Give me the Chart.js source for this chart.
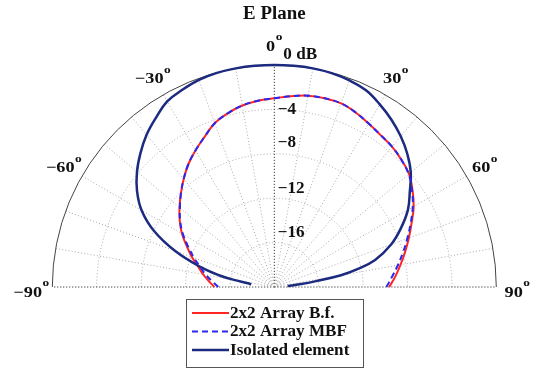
<!DOCTYPE html>
<html>
<head>
<meta charset="utf-8">
<script src="https://cdn.jsdelivr.net/npm/chart.js@4/dist/chart.umd.min.js"></script>
<style>
  html, body { margin: 0; padding: 0; background: #fff; }
  #wrap { width: 542px; height: 370px; position: relative; }
</style>
</head>
<body>
<div id="wrap"><canvas id="c" width="542" height="370"></canvas></div>
<script>
// E-plane radiation patterns, normalised gain in dB versus angle in degrees
const isoAngles = [-84,-82,-80,-78,-75,-70,-65,-60,-55,-50,-45,-40,-35,-30,-25,-20,-15,-10,-5,0,5,10,15,20,25,30,35,40,45,50,55,60,65,70,75,78,80,82,84,86];
const isoGain   = [-17.9,-17.7,-16.3,-14.9,-13.2,-10.5,-8.05,-6.2,-4.9,-3.85,-2.95,-2.1,-1.4,-0.7,-0.4,-0.15,-0.03,0,0,0,0,0,-0.05,-0.2,-0.45,-1.0,-1.6,-2.28,-3.05,-3.95,-5.1,-6.1,-7.4,-8.8,-10.6,-12.4,-13.9,-16.2,-17.7,-18.8];

const arrAngles = [-90,-85,-80,-75,-70,-65,-60,-55,-50,-45,-40,-35,-30,-25,-20,-15,-10,-5,0,5,10,15,20,25,30,35,40,45,50,55,60,65,70,75,80,85,90];
const bfGain    = [-14.6,-14.1,-13.5,-12.9,-12.1,-11.3,-10.4,-9.6,-8.85,-8.1,-7.3,-6.5,-5.8,-5.1,-4.3,-3.8,-3.4,-3.15,-3.0,-2.75,-2.5,-2.4,-2.4,-2.65,-3.0,-3.3,-3.5,-3.8,-4.15,-4.8,-5.5,-6.35,-7.1,-7.8,-8.45,-9.05,-9.65];
const mbfGain   = [-14.95,-14.4,-13.75,-13.1,-12.3,-11.45,-10.5,-9.65,-8.9,-8.1,-7.3,-6.5,-5.8,-5.1,-4.3,-3.8,-3.4,-3.15,-3.0,-2.75,-2.5,-2.4,-2.4,-2.65,-3.0,-3.3,-3.5,-3.8,-4.2,-4.85,-5.6,-6.45,-7.25,-8.0,-8.7,-9.35,-9.9];

const seriesNames = ['2x2 Array B.f.', '2x2 Array MBF', 'Isolated element'];

// polar axis settings
const dbMin = -20, dbMax = 0;
const ringTicks = [0, -4, -8, -12, -16];
const angleTicks = [-90, -60, -30, 0, 30, 60, 90];
const spokeStep = 10;
const titleText = 'E Plane';

const span = dbMax - dbMin;
function toXY(angles, gains) {
  return angles.map((a, i) => {
    const r = Math.max(0, gains[i] - dbMin);
    const t = a * Math.PI / 180;
    return { x: r * Math.sin(t), y: r * Math.cos(t) };
  });
}

const FONT = '"Liberation Serif", "Times New Roman", serif';

// text drawn with a horizontal stretch factor sx, anchored at (x, y)
function stretchedText(ctx, txt, x, y, sx, align) {
  const w = ctx.measureText(txt).width * sx;
  let x0 = x;
  if (align === 'center') x0 = x - w / 2;
  else if (align === 'right') x0 = x - w;
  ctx.save();
  ctx.translate(x0, y);
  ctx.scale(sx, 1);
  ctx.textAlign = 'left';
  ctx.fillText(txt, 0, 0);
  ctx.restore();
  return w;
}

function drawDegLabel(ctx, num, cx, cy, size, sx) {
  const supSize = Math.round(size * 0.75);
  ctx.font = 'bold ' + size + 'px ' + FONT;
  const wMain = ctx.measureText(num).width * sx;
  ctx.font = 'bold ' + supSize + 'px ' + FONT;
  const wSup = ctx.measureText('o').width * sx;
  const total = wMain + wSup + 0.5;
  const x0 = cx - total / 2;
  ctx.textBaseline = 'alphabetic';
  const base = cy + size * 0.44;
  ctx.font = 'bold ' + size + 'px ' + FONT;
  stretchedText(ctx, num, x0, base, sx, 'left');
  ctx.font = 'bold ' + supSize + 'px ' + FONT;
  stretchedText(ctx, 'o', x0 + wMain + 0.5, base - size * 0.68, sx, 'left');
}

const polarGrid = {
  id: 'polarGrid',
  beforeDatasetsDraw(chart) {
    const ctx = chart.ctx;
    const xs = chart.scales.x, ys = chart.scales.y;
    const cx = xs.getPixelForValue(0), cy = ys.getPixelForValue(0);
    const R = xs.getPixelForValue(span) - cx;
    ctx.save();
    ctx.lineWidth = 1;
    // dotted rings
    ctx.strokeStyle = '#a8a8a8';
    ctx.setLineDash([1, 2.2]);
    ringTicks.forEach(v => {
      if (v === dbMax) return;
      const r = (v - dbMin) / span * R;
      ctx.beginPath();
      ctx.arc(cx, cy, r, Math.PI, 2 * Math.PI);
      ctx.stroke();
    });
    // dotted spokes
    for (let a = -90; a <= 90; a += spokeStep) {
      const t = a * Math.PI / 180;
      const strong = (a === 0 || Math.abs(a) === 90);
      ctx.strokeStyle = strong ? '#3a3a3a' : '#a8a8a8';
      ctx.setLineDash(strong ? [1.2, 1.8] : [1, 2.2]);
      ctx.beginPath();
      ctx.moveTo(cx, cy);
      ctx.lineTo(cx + R * Math.sin(t), cy - R * Math.cos(t));
      ctx.stroke();
    }
    // outer boundary
    ctx.setLineDash([]);
    ctx.strokeStyle = '#444';
    ctx.lineWidth = 1;
    ctx.beginPath();
    ctx.arc(cx, cy, R, Math.PI, 2 * Math.PI);
    ctx.stroke();
    ctx.restore();
  },
  afterDraw(chart) {
    const ctx = chart.ctx;
    const xs = chart.scales.x, ys = chart.scales.y;
    const cx = xs.getPixelForValue(0), cy = ys.getPixelForValue(0);
    const R = xs.getPixelForValue(span) - cx;
    ctx.save();
    ctx.fillStyle = '#111';

    // title
    ctx.font = 'bold 18px ' + FONT;
    ctx.textBaseline = 'middle';
    stretchedText(ctx, titleText, cx, 14, 1.05, 'center');

    // angle labels
    angleTicks.forEach(a => {
      const t = a * Math.PI / 180;
      const lx = cx + (R + 21) * Math.sin(t);
      const ly = cy - (R + 21) * Math.cos(t) + (Math.abs(a) === 90 ? 3 : 0);
      drawDegLabel(ctx, (a < 0 ? '\u2212' : '') + Math.abs(a), lx, ly, 15, 1.22);
    });

    // gain labels along the 0 degree axis
    ctx.font = 'bold 16px ' + FONT;
    ctx.textBaseline = 'middle';
    const shifts = { '0': -10, '-4': 0.6, '-8': -10.5, '-12': -9.7, '-16': -9.6 };
    ringTicks.forEach(v => {
      const r = (v - dbMin) / span * R;
      const txt = v === 0 ? '0 dB' : '\u2212' + Math.abs(v);
      stretchedText(ctx, txt, cx + (v === 0 ? 9 : 3.5), cy - r + shifts[String(v)], 1.07, 'left');
    });

    // legend box
    const bx = 186.5, by = 299.5, bw = 177, bh = 68;
    ctx.fillStyle = '#fff';
    ctx.fillRect(bx, by, bw, bh);
    ctx.strokeStyle = '#555';
    ctx.lineWidth = 1;
    ctx.strokeRect(bx, by, bw, bh);
    [0, 1, 2].forEach((di, k) => {
      const ds = chart.data.datasets[di];
      const ry = 313 + k * 18.5;
      ctx.save();
      ctx.strokeStyle = ds.borderColor;
      ctx.lineWidth = ds.borderWidth;
      ctx.setLineDash(ds.borderDash || []);
      ctx.beginPath();
      ctx.moveTo(192, ry);
      ctx.lineTo(229, ry);
      ctx.stroke();
      ctx.restore();
      ctx.fillStyle = '#111';
      ctx.font = 'bold 16px ' + FONT;
      ctx.textBaseline = 'middle';
      stretchedText(ctx, ds.label, 230, ry + 0.5, 1.07, 'left');
    });
    ctx.restore();
  }
};

new Chart(document.getElementById('c'), {
  type: 'scatter',
  data: {
    datasets: [
      { label: seriesNames[0], data: toXY(arrAngles, bfGain), showLine: true,
        borderColor: '#ff2424', borderWidth: 2, pointRadius: 0, tension: 0.4, order: 3, clip: false },
      { label: seriesNames[1], data: toXY(arrAngles, mbfGain), showLine: true,
        borderColor: '#2828f0', borderWidth: 2, borderDash: [6, 4], pointRadius: 0, tension: 0.4, order: 1, clip: false },
      { label: seriesNames[2], data: toXY(isoAngles, isoGain), showLine: true,
        borderColor: '#1c2a80', borderWidth: 2.5, pointRadius: 0, tension: 0.4, order: 2, clip: false }
    ]
  },
  options: {
    responsive: false,
    animation: false,
    layout: { padding: { left: 52.3, right: 45.7, top: 65, bottom: 83 } },
    scales: {
      x: { type: 'linear', min: -span, max: span, display: false },
      y: { type: 'linear', min: 0, max: span, display: false }
    },
    plugins: { legend: { display: false }, title: { display: false }, tooltip: { enabled: false } }
  },
  plugins: [polarGrid]
});
</script>
</body>
</html>
